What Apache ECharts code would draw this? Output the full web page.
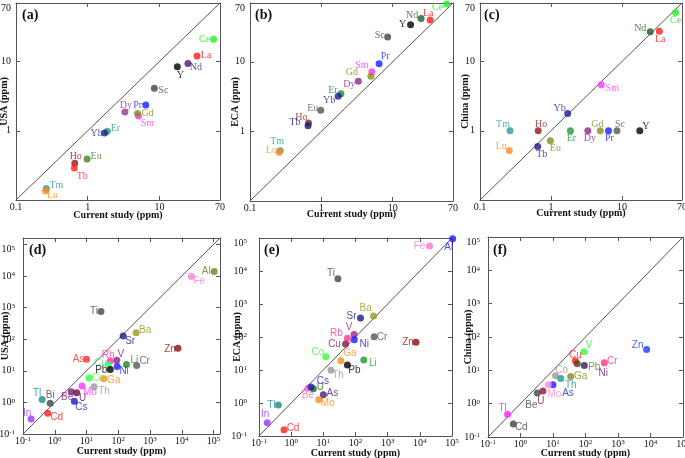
<!DOCTYPE html>
<html><head><meta charset="utf-8">
<script src="https://cdn.jsdelivr.net/npm/echarts@6/dist/echarts.min.js"></script>
<style>html,body{margin:0;padding:0;background:#fff}#c{width:685px;height:458px}</style>
</head><body><div id="c"></div>
<script>
// ---------- data: rare earth elements (panels a-c) ----------
const reeNames   = ['Ce','La','Nd','Y','Sc','Pr','Sm','Gd','Dy','Er','Yb','Eu','Ho','Tb','Tm','Lu'];
const reeCurrent = [57,33.5,25,17.8,8.5,6.45,5.1,4.95,3.3,1.88,1.72,0.98,0.66,0.65,0.265,0.258];
const reeUSA     = [21,12,9.4,8.4,4.1,2.36,1.64,1.77,1.87,0.98,0.93,0.39,0.34,0.29,0.147,0.135];
const reeECA     = [68,40,42,34,22.7,9.35,7.17,6.2,5.26,3.49,3.2,2.01,1.32,1.21,0.526,0.50];
const reeChina   = [51,27.4,26.8,1,1,1,4.6,1,1,1,1.77,0.72,1,0.59,1,0.52];
// ---------- data: other elements (panels d-f) ----------
const trNames   = ['Al','Fe','Ti','Ba','Sr','Zn','As','Rb','V','Cu','Li','Cr','Pb','Ni','Co','Ga','Th','Mo','Be','U','Cs','Tl','Bi','Cd','In'];
const trCurrent = [1.05e5,2.0e4,28.5,365,143,7600,10,56,90,49,181,380,56,92,12,35,17.3,7.2,3.3,4.9,4.13,0.40,0.72,0.6,0.18];
const trUSA     = [1.4e4,9.6e3,750,160,126,51.5,23.2,20.6,21.6,15.4,15.8,14.7,11.0,13.7,5.9,5.6,3.14,3.3,2.19,2.04,1.09,1.23,0.94,0.457,0.30];
const trECA     = [9.5e4,5.7e4,5860,433,376,69,1.79,91,120,61,20.1,102,14.2,83,25.4,19.2,9.8,1.26,2.78,2.72,3.05,0.87,null,0.156,0.254];
const trChina   = [null,null,null,null,null,42,3.69,null,35.9,18.9,null,16.8,15.7,14.0,6.86,6.55,5.7,3.69,2.08,2.38,null,0.48,null,0.245,null];
// ---------- tick labels ----------
const reeXTicks = [0.1,1,10,70];
const reeYTicks = [1,10,70];
const trTicks   = [0.1,1,10,100,1000,10000,100000];

// ---------- styles ----------
const serif = '"Liberation Serif","Times New Roman",serif';
const sans  = '"Liberation Sans",Arial,sans-serif';
const colA = {Ce:'#22ee22',La:'#ff1a1a',Nd:'#4b1a60',Y:'#000',Sc:'#444',Pr:'#1a1aff',Gd:'#8a8a1a',Sm:'#ff33ff',Dy:'#993399',Er:'#2a9a8a',Yb:'#1a1a9a',Eu:'#4a7a2a',Ho:'#8b1a1a',Tb:'#ff2222',Tm:'#2a9a9a',Lu:'#ff8c1a'};
const colB = {Ce:'#22ee22',La:'#ff1a1a',Nd:'#1b5e3b',Y:'#000',Sc:'#444',Pr:'#1a1aff',Sm:'#ff33ff',Gd:'#8a8a1a',Dy:'#8a2a8a',Er:'#1a8a2a',Yb:'#1a1a9a',Eu:'#555',Ho:'#8b1a1a',Tb:'#1a1a7a',Tm:'#2a9a9a',Lu:'#ff8c1a'};
const colC = {Ce:'#22ee22',La:'#ff1a1a',Nd:'#1b5e2b',Y:'#000',Sc:'#555',Pr:'#1a1aff',Sm:'#ff33ff',Gd:'#8a8a1a',Dy:'#8a2a8a',Er:'#1a9a3a',Yb:'#1a1a9a',Eu:'#8a8a1a',Ho:'#8b1a1a',Tb:'#1a1a7a',Tm:'#2a9a9a',Lu:'#ff8c1a'};
const colD = {Al:'#7a7a1a',Fe:'#ff80d0',Ti:'#444',Ba:'#9a9a1a',Sr:'#1a1a8a',Zn:'#8b0a0a',As:'#ff2a2a',Rb:'#ff3399',V:'#8a1a8a',Cu:'#33ff66',Li:'#1a8a2a',Cr:'#555',Pb:'#000',Ni:'#1a1aff',Co:'#33ff33',Ga:'#ff8c1a',Th:'#999',Mo:'#ff33ff',Be:'#7a1a7a',U:'#6a0a3a',Cs:'#1a1acc',Tl:'#1a8a8a',Bi:'#444',Cd:'#ff1a1a',In:'#9a33ff'};
const colE = {Al:'#1a1aff',Fe:'#ff77cc',Ti:'#444',Ba:'#9a9a1a',Sr:'#1a1a8a',Zn:'#8b0a0a',As:'#4a1a7a',Rb:'#ff3399',V:'#a0208a',Cu:'#7a1a4a',Li:'#1a9a2a',Cr:'#555',Pb:'#000',Ni:'#1a1aff',Co:'#33ff33',Ga:'#ff8c1a',Th:'#999',Mo:'#ff8c1a',Be:'#ff66cc',U:'#1a6a1a',Cs:'#1a1aaa',Tl:'#1a8a8a',Cd:'#ff1a1a',In:'#9a33ff'};
const colF = {Zn:'#1a3aff',V:'#33ff33',Cu:'#ff1a1a',Pb:'#5a3a1a',Ni:'#3a1a5a',Cr:'#ff3377',Co:'#999',Th:'#1a9a9a',Ga:'#8a8a1a',Mo:'#ff88dd',As:'#1a1aff',Be:'#444',U:'#8b1a2a',Tl:'#ff1aff',Cd:'#444'};
const labColF = {Pb:'#8a6a2a',Ni:'#5a1a6a',As:'#2a2aaa'};

// label centre offset from its point: [dx, dy] in px
const plA = {Ce:[-9,0],La:[9,-1],Nd:[8,4],Y:[3,9],Sc:[9,2],Pr:[-8,0],Gd:[10,0],Sm:[9,7],Dy:[1,-7],Er:[8,-3],Yb:[-8,0],Eu:[9,-3],Ho:[1,-7],Tb:[8,8],Tm:[10,-3],Lu:[7,4]};
const plB = {Ce:[-9,3],La:[-2,-7],Nd:[-9,-3],Y:[-8,0],Sc:[-8,-2],Pr:[6,-7],Sm:[-10,-6],Gd:[-19,-4],Dy:[-9,3],Er:[-8,-3],Yb:[-9,4],Eu:[-8,-2],Ho:[-7,-6],Tb:[-13,-3],Tm:[-3,-9],Lu:[-8,-2]};
const plC = {Ce:[0,8],Nd:[-10,-3],La:[1,8],Sm:[11,4],Yb:[-8,-5],Tm:[-7,-6],Ho:[3,-6],Er:[1,8],Dy:[2,8],Gd:[-3,-6],Pr:[1,8],Sc:[3,-6],Y:[6,-4],Eu:[5,8],Tb:[4,8],Lu:[-8,-4]};
const plD = {Al:[-8,0],Fe:[8,5],Ti:[-7,0],Ba:[9,-3],Sr:[7,5],Zn:[-8,1],As:[-8,0],Rb:[-2,-6],V:[4,-6],Cu:[-8,-2],Li:[8,-4],Cr:[8,-4],Pb:[-9,1],Ni:[7,5],Co:[9,0],Ga:[10,1],Th:[10,5],Mo:[8,6],Be:[-4,6],U:[6,6],Cs:[7,6],Tl:[-5,-6],Bi:[0,-8],Cd:[9,4],In:[-4,-6]};
const plE = {Fe:[-10,0],Al:[-4,9],Ti:[-7,-5],Ba:[-8,-8],Sr:[-9,-2],Cr:[8,1],V:[-5,-7],Rb:[-11,-5],Ni:[10,5],Cu:[-11,0],Zn:[-8,0],Co:[-8,-4],Ga:[9,-7],Li:[9,3],Pb:[7,5],Th:[7,5],Cs:[12,-6],U:[7,-1],Be:[0,7],As:[9,-1],Mo:[9,4],Tl:[-7,0],In:[-2,-8],Cd:[9,-1]};
const plF = {Zn:[-9,-4],V:[5,-7],Cu:[0,-6],Pb:[17,3],Ni:[19,8],Cr:[8,-2],Co:[6,-6],Th:[10,7],Ga:[10,0],Mo:[6,9],As:[15,8],Be:[-6,12],U:[-2,10],Tl:[-5,-6],Cd:[8,3]};

const panels = [
  {t:'(a)',names:reeNames,xs:reeCurrent,ys:reeUSA,yName:'USA (ppm)',col:colA,pl:plA,grid:{left:16,top:3,width:204,height:197},min:0.1,max:70,ree:true,font:serif,yGap:7,xGap:10,yMargin:5,tl:[22,8]},
  {t:'(b)',names:reeNames,xs:reeCurrent,ys:reeECA,yName:'ECA (ppm)',col:colB,pl:plB,grid:{left:250,top:3,width:203,height:198},min:0.1,max:70,ree:true,font:serif,yGap:10,xGap:8,yMargin:5,tl:[255,8]},
  {t:'(c)',names:reeNames,xs:reeCurrent,ys:reeChina,yName:'China (ppm)',col:colC,pl:plC,grid:{left:480,top:3,width:202,height:197},min:0.1,max:70,ree:true,font:serif,yGap:10,xGap:8,yMargin:5,tl:[484,8]},
  {t:'(d)',names:trNames,xs:trCurrent,ys:trUSA,yName:'USA (ppm)',col:colD,pl:plD,grid:{left:23,top:238,width:197,height:196},min:0.1,max:1.6e5,ree:false,font:sans,yGap:13,xGap:12,yMargin:8,tl:[29,243],rename:{Rb:'Rh'}},
  {t:'(e)',names:trNames,xs:trCurrent,ys:trECA,yName:'ECA (ppm)',col:colE,pl:plE,grid:{left:259,top:238,width:193,height:198},min:0.1,max:1e5,ree:false,font:sans,yGap:17,xGap:12,yMargin:12,tl:[264,243],noclip:true},
  {t:'(f)',names:trNames,xs:trCurrent,ys:trChina,yName:'China (ppm)',col:colF,pl:plF,grid:{left:488,top:237,width:195,height:200},min:0.1,max:1e5,ree:false,font:sans,yGap:15,xGap:11,yMargin:8,tl:[493,243],labCol:labColF}
];

const axisColor = '#555';
const rich = {m:{fontSize:10,fontFamily:serif,color:'#111'},s:{fontSize:7,fontFamily:serif,color:'#111',verticalAlign:'top'}};
function powLabel(v){ return '{m|10}{s|' + Math.round(Math.log10(v)) + '}'; }
function plainLabel(v){ return v < 0.5 ? '0.1' : String(Math.round(v)); }

const grid = [], xAxis = [], yAxis = [], series = [], title = [];
panels.forEach((p, i) => {
  grid.push(Object.assign({containLabel:false, outerBoundsMode:'none'}, p.grid));
  title.push({text:p.t, left:p.tl[0], top:p.tl[1], padding:0, textStyle:{fontFamily:serif,fontWeight:'bold',fontSize:14,color:'#111'}});
  const xLab = p.ree ? reeXTicks : trTicks;
  const yLab = p.ree ? reeYTicks : trTicks;
  const tickV = p.ree ? [1,10] : trTicks.filter(v => v > p.min && v < p.max);
  const fmt = p.ree ? plainLabel : powLabel;
  const base = {gridIndex:i, type:'log', logBase:10, min:p.min, max:p.max, splitLine:{show:false},
    nameMoveOverlap:false,
    axisLine:{show:true, onZero:false, lineStyle:{color:axisColor,width:1}},
    axisTick:{show:true, inside:true, length:4, customValues:tickV, lineStyle:{color:axisColor}}};
  const nameStyle = {fontFamily:serif,fontWeight:'bold',fontSize:10,color:'#111'};
  xAxis.push(Object.assign({}, base, {position:'bottom',
    axisLabel:{customValues:xLab, formatter:fmt, rich:rich, fontFamily:serif, fontSize:10, color:'#111', margin:2},
    name:'Current study (ppm)', nameLocation:'middle', nameGap:p.xGap, nameTextStyle:nameStyle}));
  xAxis.push(Object.assign({}, base, {position:'top', axisLabel:{show:false}}));
  yAxis.push(Object.assign({}, base, {position:'left',
    axisLabel:{customValues:yLab, formatter:fmt, rich:rich, fontFamily:serif, fontSize:10, color:'#111',
               margin:p.yMargin, verticalAlignMaxLabel:'top'},
    name:p.yName, nameLocation:'middle', nameGap:p.yGap, nameRotate:90, nameTextStyle:nameStyle}));
  yAxis.push(Object.assign({}, base, {position:'right', axisLabel:{show:false}}));

  series.push({type:'line', xAxisIndex:2*i, yAxisIndex:2*i, data:[[p.min,p.min],[p.max,p.max]],
    symbol:'none', silent:true, lineStyle:{color:'#555',width:1}, z:1});

  const data = [];
  p.names.forEach((n, k) => {
    const y = p.ys[k];
    if (y == null) return;
    const off = p.pl[n] || [9,0];
    const c = p.col[n];
    const lc = (p.labCol && p.labCol[n]) || c;
    const txt = (p.rename && p.rename[n]) || n;
    data.push({name:n, value:[p.xs[k], y], itemStyle:{color:c},
      label:{show:true, position:'inside', offset:off, color:lc,
             fontFamily:p.font, fontSize:10, formatter:txt}});
  });
  series.push({type:'scatter', xAxisIndex:2*i, yAxisIndex:2*i, symbolSize:7, data:data, z:3,
    clip: !p.noclip});
});

const chart = echarts.init(document.getElementById('c'), null, {renderer:'canvas'});
chart.setOption({animation:false, backgroundColor:'#fff', title, grid, xAxis, yAxis, series});
</script></body></html>
